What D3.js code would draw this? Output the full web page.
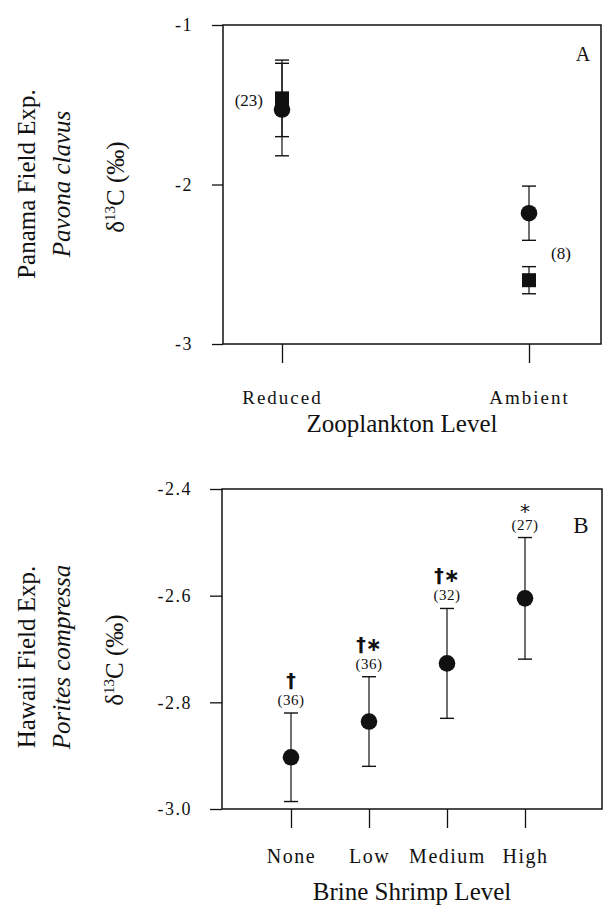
<!DOCTYPE html>
<html>
<head>
<meta charset="utf-8">
<script src="https://cdn.jsdelivr.net/npm/d3@7"></script>
<style>
  html, body { margin: 0; padding: 0; background: #fff; }
  svg { display: block; }
  text { font-family: "Liberation Serif", "Times New Roman", serif; fill: #111; }
</style>
</head>
<body>
<script>
// ---------- Panel A data (Panama, Pavona clavus) ----------
const catsA = ["Reduced", "Ambient"];
const circleMeanA = [-1.53, -2.18];
const circleErrA  = [0.29, 0.17];
const squareMeanA = [-1.46, -2.60];
const squareErrA  = [0.24, 0.085];
const nLabelsA = ["(23)", "(8)"];
const yTicksA = [-1, -2, -3];

// ---------- Panel B data (Hawaii, Porites compressa) ----------
const catsB = ["None", "Low", "Medium", "High"];
const meanB = [-2.903, -2.836, -2.727, -2.605];
const errB  = [0.083, 0.084, 0.103, 0.114];
const nLabelsB = ["(36)", "(36)", "(32)", "(27)"];
const sigLabelsB = ["†", "†∗", "†∗", "*"];
const yTicksB = [-2.4, -2.6, -2.8, -3.0];

const W = 603, H = 905;
const svg = d3.select("body").append("svg").attr("width", W).attr("height", H);

const ink = "#111";

function yTitle(g, lines, cy) {
  lines.forEach(l => {
    const t = g.append("text")
      .attr("transform", `translate(${l.x},${cy + (l.dy || 0)}) rotate(-90)`)
      .attr("text-anchor", "middle")
      .style("font-size", "25px")
      .style("font-style", l.italic ? "italic" : "normal");
    if (l.delta) {
      t.append("tspan").text("δ");
      t.append("tspan").text("13").style("font-size", "15px").attr("dy", -9);
      t.append("tspan").text("C (‰)").attr("dy", 9);
    } else {
      t.text(l.text);
    }
  });
}

function errorBar(g, x, yTop, yBot, half) {
  g.append("line").attr("x1", x).attr("x2", x).attr("y1", yTop).attr("y2", yBot)
    .attr("stroke", ink).attr("stroke-width", 1.2);
  [yTop, yBot].forEach(yy => g.append("line")
    .attr("x1", x - half).attr("x2", x + half).attr("y1", yy).attr("y2", yy)
    .attr("stroke", ink).attr("stroke-width", 1.4));
}

function styleAxis(sel, fs, ls) {
  sel.select(".domain").remove();
  sel.selectAll(".tick line").attr("stroke", ink).attr("stroke-width", 1.3);
  sel.selectAll(".tick text").style("font-size", fs + "px")
    .style("letter-spacing", ls + "px")
    .style("font-family", '"Liberation Serif", "Times New Roman", serif')
    .attr("fill", ink);
}

// =================== PANEL A ===================
const gA = svg.append("g");
const frameA = { x0: 223, x1: 601 };
const xA = d3.scalePoint().domain(catsA).range([282, 529]);
const yA = d3.scaleLinear().domain([-3, -1]).range([344, 25]);

gA.append("rect").attr("x", frameA.x0).attr("y", yA(-1))
  .attr("width", frameA.x1 - frameA.x0).attr("height", yA(-3) - yA(-1))
  .attr("fill", "none").attr("stroke", ink).attr("stroke-width", 1.5);

const axLA = gA.append("g").attr("transform", `translate(${frameA.x0},0)`)
  .call(d3.axisLeft(yA).tickValues(yTicksA).tickFormat(d => String(d)).tickSize(11).tickPadding(19));
styleAxis(axLA, 18, 1.5);

const axBA = gA.append("g").attr("transform", `translate(0,${yA(-3)})`)
  .call(d3.axisBottom(xA).tickSize(19).tickPadding(28));
styleAxis(axBA, 19, 2);

gA.append("text").attr("x", 402).attr("y", 432).attr("text-anchor", "middle")
  .style("font-size", "25px").text("Zooplankton Level");

yTitle(gA, [
  { text: "Panama Field Exp.", x: 35 },
  { text: "Pavona clavus", x: 70, italic: true },
  { x: 124, delta: true, dy: 3 }
], 184);

catsA.forEach((c, i) => {
  const x = xA(c);
  errorBar(gA, x, yA(squareMeanA[i] + squareErrA[i]), yA(squareMeanA[i] - squareErrA[i]), 7);
  errorBar(gA, x, yA(circleMeanA[i] + circleErrA[i]), yA(circleMeanA[i] - circleErrA[i]), 7);
  gA.append("circle").attr("cx", x).attr("cy", yA(circleMeanA[i])).attr("r", 8.3).attr("fill", ink);
  gA.append("rect").attr("x", x - 7).attr("y", yA(squareMeanA[i]) - 7)
    .attr("width", 14).attr("height", 14).attr("fill", ink);
});

gA.append("text").attr("x", xA(catsA[0]) - 19).attr("y", yA(squareMeanA[0]) + 8)
  .attr("text-anchor", "end").style("font-size", "17px").text(nLabelsA[0]);
gA.append("text").attr("x", xA(catsA[1]) + 22)
  .attr("y", (yA(circleMeanA[1] - circleErrA[1]) + yA(squareMeanA[1] + squareErrA[1])) / 2 + 6)
  .attr("text-anchor", "start").style("font-size", "17px").text(nLabelsA[1]);

gA.append("text").attr("x", 583).attr("y", 61).attr("text-anchor", "middle")
  .style("font-size", "20px").text("A");

// =================== PANEL B ===================
const gB = svg.append("g");
const frameB = { x0: 222, x1: 602 };
const xB = d3.scalePoint().domain(catsB).range([291, 525]);
const yB = d3.scaleLinear().domain([-3.0, -2.4]).range([809, 489]);

gB.append("rect").attr("x", frameB.x0).attr("y", yB(-2.4))
  .attr("width", frameB.x1 - frameB.x0).attr("height", yB(-3.0) - yB(-2.4))
  .attr("fill", "none").attr("stroke", ink).attr("stroke-width", 1.5);

const axLB = gB.append("g").attr("transform", `translate(${frameB.x0},0)`)
  .call(d3.axisLeft(yB).tickValues(yTicksB).tickFormat(d => d.toFixed(1)).tickSize(12).tickPadding(18));
styleAxis(axLB, 18, 1.5);

const axBB = gB.append("g").attr("transform", `translate(0,${yB(-3.0)})`)
  .call(d3.axisBottom(xB).tickSize(19).tickPadding(21));
styleAxis(axBB, 20, 1.5);

gB.append("text").attr("x", 412).attr("y", 900).attr("text-anchor", "middle")
  .style("font-size", "25px").text("Brine Shrimp Level");

yTitle(gB, [
  { text: "Hawaii Field Exp.", x: 35 },
  { text: "Porites compressa", x: 70, italic: true },
  { x: 123, delta: true, dy: 3 }
], 657);

catsB.forEach((c, i) => {
  const x = xB(c);
  const yTop = yB(meanB[i] + errB[i]);
  errorBar(gB, x, yTop, yB(meanB[i] - errB[i]), 7);
  gB.append("circle").attr("cx", x).attr("cy", yB(meanB[i])).attr("r", 8.3).attr("fill", ink);
  gB.append("text").attr("x", x).attr("y", yTop - 8).attr("text-anchor", "middle")
    .style("font-size", "15px").style("letter-spacing", "0.5px").text(nLabelsB[i]);
  const s = sigLabelsB[i];
  if (s === "*") {
    gB.append("text").attr("x", x).attr("y", yTop - 20).attr("text-anchor", "middle")
      .style("font-size", "20px").style("font-family", '"DejaVu Sans", sans-serif')
      .text("*");
  } else {
    gB.append("text").attr("x", x).attr("y", yTop - 26).attr("text-anchor", "middle")
      .style("font-size", "19px").style("font-family", '"DejaVu Sans", sans-serif')
      .style("font-weight", "bold").text(s);
  }
});

gB.append("text").attr("x", 581).attr("y", 533).attr("text-anchor", "middle")
  .style("font-size", "23px").text("B");
</script>
</body>
</html>
